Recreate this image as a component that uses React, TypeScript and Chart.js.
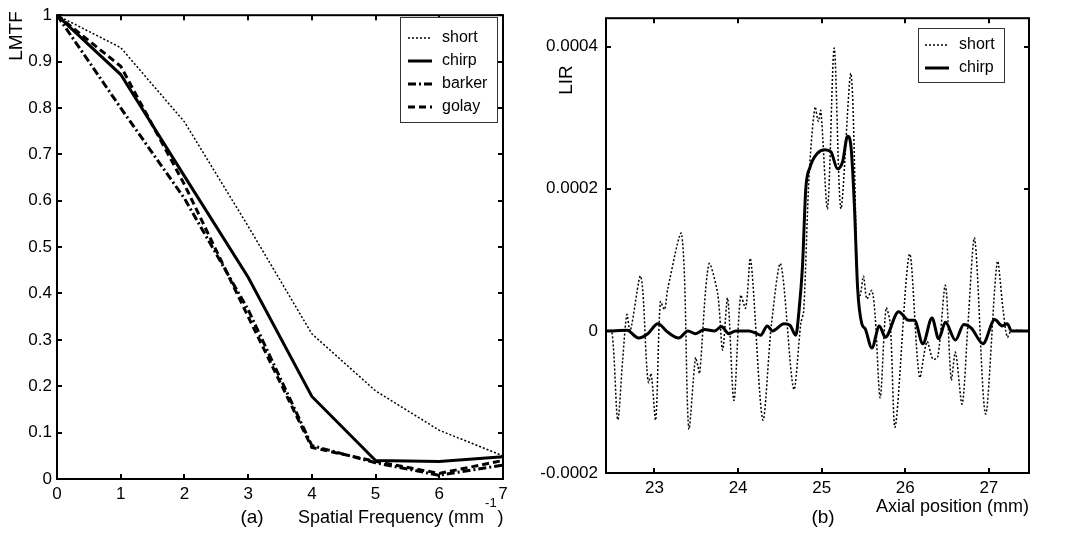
import React, { useEffect, useRef } from 'react';
import { Chart, registerables } from 'chart.js';
Chart.register(...registerables);

const FONT = "'Liberation Sans', Arial, sans-serif";

// ---------- Panel (a): LMTF vs spatial frequency ----------
const freq = [0, 1, 2, 3, 4, 5, 6, 7];
const lmtfShort = [1, 0.93, 0.77, 0.545, 0.313, 0.19, 0.105, 0.05];
const lmtfChirp = [1, 0.872, 0.653, 0.435, 0.178, 0.04, 0.038, 0.048];
const lmtfBarker = [1, 0.8, 0.605, 0.365, 0.072, 0.035, 0.008, 0.03];
const lmtfGolay = [1, 0.89, 0.635, 0.35, 0.068, 0.038, 0.012, 0.04];
const legendA = ['short', 'chirp', 'barker', 'golay'];

// ---------- Panel (b): LIR vs axial position (values in units of 1e-4) ----------
const shortX = [
  22.42, 22.49, 22.56, 22.62, 22.67, 22.71, 22.835, 22.91, 22.93, 22.96, 23.015,
  23.07, 23.12, 23.16, 23.325, 23.41, 23.49, 23.52, 23.54, 23.65, 23.755, 23.815,
  23.875, 23.95, 24.03, 24.09, 24.15, 24.295, 24.4, 24.51, 24.665, 24.75, 24.785,
  24.85, 24.92, 24.96, 24.99, 25.07, 25.15, 25.23, 25.35, 25.43, 25.46, 25.5,
  25.54, 25.6, 25.64, 25.7, 25.77, 25.82, 25.88, 26.05, 26.17, 26.26, 26.33,
  26.39, 26.48, 26.55, 26.6, 26.68, 26.75, 26.83, 26.96, 27.1, 27.17, 27.22,
  27.27, 27.48,
];
const shortY = [
  0, 0, -1.25, -0.4, 0.23, 0.0, 0.77, -0.55, -0.73, -0.6, -1.25,
  0.41, 0.3, 0.6, 1.36, -1.37, -0.38, -0.5, -0.6, 0.94, 0.53, -0.27,
  0.46, -0.98, 0.5, 0.32, 1.01, -1.25, 0.1, 0.94, -0.82, 0.1, 0.28,
  2.2, 3.15, 2.95, 3.1, 1.72, 3.98, 1.72, 3.62, 0.6, 0.5, 0.77,
  0.45, 0.57, 0.2, -0.94, 0.32, 0.1, -1.35, 1.08, -0.65, -0.15, -0.4,
  -0.36, 0.64, -0.69, -0.3, -1.03, 0.1, 1.3, -1.17, 0.97, 0.3, -0.09,
  0, 0,
];
const chirpX = [
  22.42, 22.5, 22.67, 22.81, 22.92, 23.04, 23.16, 23.29, 23.4, 23.49, 23.6,
  23.72, 23.8, 23.89, 23.97, 24.13, 24.21, 24.27, 24.35, 24.41, 24.55, 24.62,
  24.69, 24.73, 24.77, 24.81, 24.86, 24.95, 25.04, 25.11, 25.19, 25.25, 25.31,
  25.35, 25.39, 25.43, 25.48, 25.52, 25.6, 25.69, 25.76, 25.92, 26.04, 26.11,
  26.21, 26.32, 26.4, 26.48, 26.6, 26.7, 26.79, 26.93, 27.07, 27.16, 27.22,
  27.27, 27.48,
];
const chirpY = [
  0, 0, 0.01, -0.1, -0.04, 0.1, -0.02, -0.1, 0, -0.04, 0.02,
  0, 0.06, -0.04, 0, 0, -0.03, -0.06, 0.07, 0, 0.1, 0.08,
  -0.06, 0.3, 0.9, 2.0, 2.3, 2.5, 2.55, 2.52, 2.28, 2.38, 2.74,
  2.6, 1.8, 0.6, 0.1, 0.03, -0.24, 0.07, -0.09, 0.27, 0.15, 0.15,
  -0.18, 0.18, -0.11, 0.12, -0.13, 0.09, 0.04, -0.18, 0.16, 0.07, 0.1,
  0, 0,
];
const legendB = ['short', 'chirp'];

const STYLES: Record<string, { dash: number[]; width: number }> = {
  short: { dash: [2, 2], width: 1.5 },
  chirp: { dash: [], width: 3 },
  barker: { dash: [8, 3, 2, 3], width: 3 },
  golay: { dash: [7, 4], width: 3 },
};

function line(ctx: CanvasRenderingContext2D, x1: number, y1: number, x2: number, y2: number) {
  ctx.beginPath();
  ctx.moveTo(x1, y1);
  ctx.lineTo(x2, y2);
  ctx.stroke();
}

const framePlugin = {
  id: 'frameTicks',
  afterDatasetsDraw(chart: any) {
    const { ctx, chartArea: a, scales } = chart;
    ctx.save();
    ctx.setLineDash([]);
    ctx.strokeStyle = '#000';
    ctx.lineWidth = 2;
    ctx.strokeRect(a.left, a.top, a.right - a.left, a.bottom - a.top);
    const tl = 5;
    const xs = scales.x;
    for (const t of xs.ticks) {
      const px = Math.round(xs.getPixelForValue(t.value));
      line(ctx, px, a.bottom, px, a.bottom - tl);
      line(ctx, px, a.top, px, a.top + tl);
    }
    const ys = scales.y;
    for (const t of ys.ticks) {
      const py = Math.round(ys.getPixelForValue(t.value));
      line(ctx, a.left, py, a.left + tl, py);
      line(ctx, a.right, py, a.right - tl, py);
    }
    ctx.restore();
  },
};

function makeDecorPlugin(cfg: {
  legend: string[];
  box: [number, number, number, number];
  rowY: number[];
  sampleX: [number, number];
  textX: number;
  legendFont: number;
  yTitle: string;
  yTitlePos: [number, number];
  yTitleSize: number;
  extra: (ctx: CanvasRenderingContext2D) => void;
}) {
  return {
    id: 'decor',
    afterDraw(chart: any) {
      const ctx: CanvasRenderingContext2D = chart.ctx;
      ctx.save();
      const [bx, by, bw, bh] = cfg.box;
      ctx.fillStyle = '#fff';
      ctx.fillRect(bx, by, bw, bh);
      ctx.strokeStyle = '#333';
      ctx.lineWidth = 1;
      ctx.setLineDash([]);
      ctx.strokeRect(bx + 0.5, by + 0.5, bw, bh);
      cfg.legend.forEach((name, i) => {
        const st = STYLES[name];
        ctx.strokeStyle = '#000';
        ctx.lineWidth = st.width;
        ctx.setLineDash(st.dash);
        line(ctx, cfg.sampleX[0], cfg.rowY[i], cfg.sampleX[1], cfg.rowY[i]);
        ctx.setLineDash([]);
        ctx.fillStyle = '#000';
        ctx.font = `${cfg.legendFont}px ${FONT}`;
        ctx.textAlign = 'left';
        ctx.textBaseline = 'middle';
        ctx.fillText(name, cfg.textX, cfg.rowY[i]);
      });
      ctx.save();
      ctx.translate(cfg.yTitlePos[0], cfg.yTitlePos[1]);
      ctx.rotate(-Math.PI / 2);
      ctx.font = `${cfg.yTitleSize}px ${FONT}`;
      ctx.textAlign = 'center';
      ctx.textBaseline = 'middle';
      ctx.fillStyle = '#000';
      ctx.fillText(cfg.yTitle, 0, 0);
      ctx.restore();
      cfg.extra(ctx);
      ctx.restore();
    },
  };
}

const tickFont = { family: FONT, size: 17 };

function ChartA() {
  const ref = useRef<HTMLCanvasElement>(null);
  useEffect(() => {
    const mk = (ys: number[]) => freq.map((x, i) => ({ x, y: ys[i] }));
    const series = [lmtfShort, lmtfChirp, lmtfBarker, lmtfGolay];
    const chart = new Chart(ref.current!, {
      type: 'line',
      data: {
        datasets: legendA.map((name, i) => ({
          label: name,
          data: mk(series[i]),
          borderColor: '#000',
          borderWidth: STYLES[name].width,
          borderDash: STYLES[name].dash,
          pointRadius: 0,
          tension: 0,
          fill: false,
        })),
      },
      options: {
        animation: false,
        responsive: false,
        devicePixelRatio: 1,
        layout: { padding: { left: 0, top: 11, right: 17, bottom: 0 } },
        plugins: { legend: { display: false }, tooltip: { enabled: false } },
        scales: {
          x: {
            type: 'linear',
            min: 0,
            max: 7,
            grid: { display: false, drawTicks: false, tickLength: 0 },
            border: { display: false },
            ticks: { stepSize: 1, color: '#000', font: tickFont, padding: 5, maxRotation: 0, callback: (v: any) => String(v) },
            afterFit: (s: any) => { s.height = 54; },
          },
          y: {
            type: 'linear',
            min: 0,
            max: 1,
            grid: { display: false, drawTicks: false, tickLength: 0 },
            border: { display: false },
            ticks: { stepSize: 0.1, color: '#000', font: tickFont, padding: 5, callback: (v: any) => String(parseFloat(Number(v).toFixed(1))) },
            afterFit: (s: any) => { s.width = 57; },
          },
        },
      },
      plugins: [
        framePlugin,
        makeDecorPlugin({
          legend: legendA,
          box: [400, 17, 97, 105],
          rowY: [38, 61, 84, 107],
          sampleX: [408, 432],
          textX: 442,
          legendFont: 16,
          yTitle: 'LMTF',
          yTitlePos: [17, 36],
          yTitleSize: 19,
          extra: (ctx) => {
            ctx.fillStyle = '#000';
            ctx.textBaseline = 'middle';
            ctx.font = `19px ${FONT}`;
            ctx.textAlign = 'center';
            ctx.fillText('(a)', 252, 518);
            ctx.textAlign = 'left';
            ctx.font = `18px ${FONT}`;
            const t1 = 'Spatial Frequency (mm';
            ctx.fillText(t1, 298, 518);
            let x = 298 + ctx.measureText(t1).width;
            ctx.font = `13px ${FONT}`;
            ctx.fillText('-1', x + 1, 503);
            x += ctx.measureText('-1').width + 2;
            ctx.font = `18px ${FONT}`;
            ctx.fillText(')', x, 518);
          },
        }) as any,
      ],
    } as any);
    return () => chart.destroy();
  }, []);
  return <canvas ref={ref} width={520} height={533} style={{ position: 'absolute', left: 0, top: 0 }} />;
}

function ChartB() {
  const ref = useRef<HTMLCanvasElement>(null);
  useEffect(() => {
    const mk = (xs: number[], ys: number[]) => xs.map((x, i) => ({ x, y: ys[i] * 1e-4 }));
    const chart = new Chart(ref.current!, {
      type: 'line',
      data: {
        datasets: [
          {
            label: 'short',
            data: mk(shortX, shortY),
            borderColor: '#000',
            borderWidth: STYLES.short.width,
            borderDash: STYLES.short.dash,
            pointRadius: 0,
            tension: 0.3,
            fill: false,
          },
          {
            label: 'chirp',
            data: mk(chirpX, chirpY),
            borderColor: '#000',
            borderWidth: STYLES.chirp.width,
            pointRadius: 0,
            cubicInterpolationMode: 'monotone',
            fill: false,
          },
        ],
      },
      options: {
        animation: false,
        responsive: false,
        devicePixelRatio: 1,
        layout: { padding: { left: 0, top: 5, right: 37, bottom: 0 } },
        plugins: { legend: { display: false }, tooltip: { enabled: false } },
        scales: {
          x: {
            type: 'linear',
            min: 22.42,
            max: 27.48,
            grid: { display: false, drawTicks: false, tickLength: 0 },
            border: { display: false },
            ticks: { stepSize: 1, includeBounds: false, color: '#000', font: tickFont, padding: 5, maxRotation: 0, callback: (v: any) => String(v) },
            afterFit: (s: any) => { s.height = 60; },
          },
          y: {
            type: 'linear',
            min: -0.0002,
            max: 0.00044,
            grid: { display: false, drawTicks: false, tickLength: 0 },
            border: { display: false },
            ticks: {
              stepSize: 0.0002,
              includeBounds: false,
              color: '#000',
              font: tickFont,
              padding: 8,
              callback: (v: any) => (Math.abs(v) < 1e-12 ? '0' : Number(v).toFixed(4)),
            },
            afterFit: (s: any) => { s.width = 86; },
          },
        },
      },
      plugins: [
        framePlugin,
        makeDecorPlugin({
          legend: legendB,
          box: [398, 28, 86, 54],
          rowY: [45, 68],
          sampleX: [405, 429],
          textX: 439,
          legendFont: 16,
          yTitle: 'LIR',
          yTitlePos: [47, 80],
          yTitleSize: 19,
          extra: (ctx) => {
            ctx.fillStyle = '#000';
            ctx.textBaseline = 'middle';
            ctx.font = `19px ${FONT}`;
            ctx.textAlign = 'center';
            ctx.fillText('(b)', 303, 518);
            ctx.font = `18px ${FONT}`;
            ctx.textAlign = 'right';
            ctx.fillText('Axial position (mm)', 509, 507);
          },
        }) as any,
      ],
    } as any);
    return () => chart.destroy();
  }, []);
  return <canvas ref={ref} width={546} height={533} style={{ position: 'absolute', left: 520, top: 0 }} />;
}

export default function App() {
  return (
    <div style={{ position: 'absolute', left: 0, top: 0, width: 1066, height: 533, background: '#fff', overflow: 'hidden' }}>
      <ChartA />
      <ChartB />
    </div>
  );
}
